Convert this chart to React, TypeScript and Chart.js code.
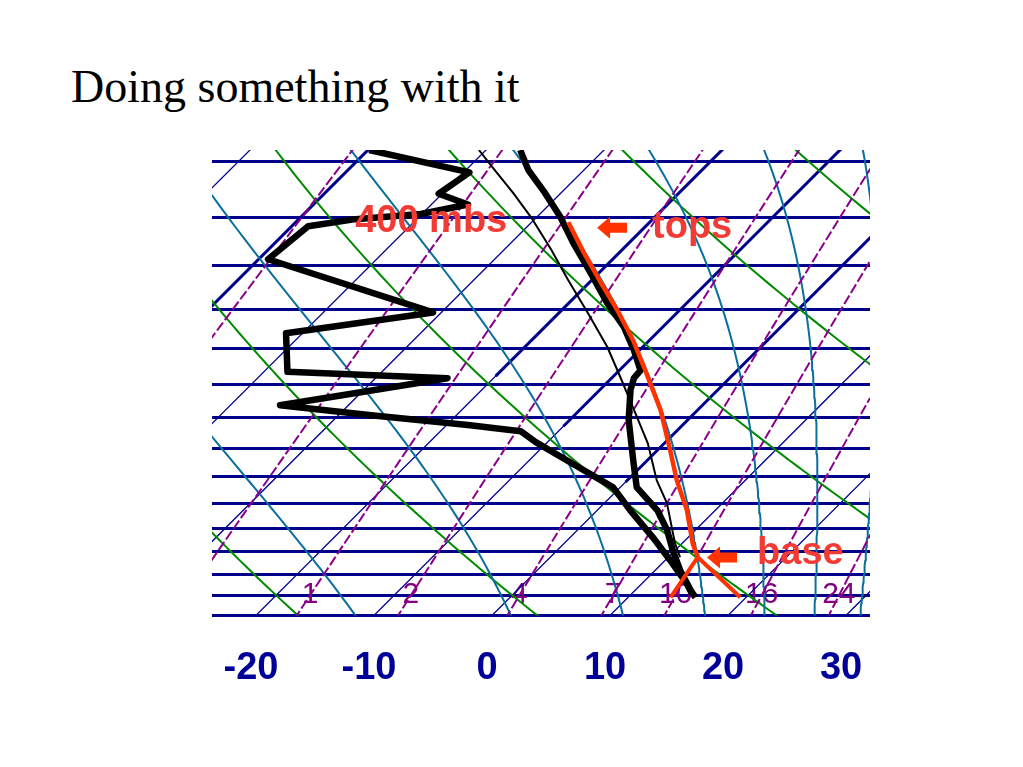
import React, { useEffect, useRef } from "react";
import { Chart, registerables } from "chart.js";

Chart.register(...registerables);

// ---------- axis definitions ----------
const xTickValues = [-20, -10, 0, 10, 20, 30];
const isobarLevels = [350, 400, 450, 500, 550, 600, 650, 700, 750, 800, 850, 900, 950, 1000, 1050];
const isothermValues = [-70, -60, -50, -40, -30, -20, -10, 0, 10, 20, 30];
const boldIsotherms = [-50, -20, -10, 0]; // drawn heavier in their upper part
const boldIsothermLowestP = [1050, 588, 664, 760];
const dryAdiabatThetas = [-20, 0, 20, 40, 60, 80]; // potential temperature, deg C
const moistThetaEs = [262, 282, 302, 322, 341, 361, 384]; // equivalent potential temperature, K
const mixingRatioValues = [0.1, 0.4, 1, 2, 4, 7, 10, 16, 24]; // g/kg
const mixingRatioLabels = [1, 2, 4, 7, 10, 16, 24];
const mixingLabelPressure = 1000;

const P_TOP = 340;
const P_BOTTOM = 1050;
const X_MIN = -23.73;
const X_MAX = 32.03;
const SKEW = 35.02; // 45 degree skew of the isotherms

// ---------- sounding (pressure hPa, temperature deg C) ----------
const tempP = [340, 357, 377, 400, 426, 458, 493, 522, 552, 580, 591, 608, 654, 721, 770, 814, 854, 897, 941, 988, 1005];
const tempT = [-37.1, -34.7, -31.4, -28.0, -24.7, -20.7, -16.7, -13.3, -10.5, -8.2, -8.1, -7.4, -5.0, -1.2, 1.4, 5.1, 7.6, 9.8, 12.1, 14.7, 15.7];

const dewP = [340, 359, 378, 388, 397, 402, 409, 443, 504, 530, 582, 591, 631, 647, 662, 672, 690, 735, 770, 814, 869, 926, 972, 998];
const dewT = [-49.9, -39.5, -40.3, -36.9, -40.1, -45.2, -48.6, -49.2, -30.7, -41.4, -38.0, -23.9, -35.8, -27.0, -18.2, -13.2, -11.0, -5.0, -0.6, 2.8, 7.0, 10.9, 13.8, 15.2];

const thinP = [340, 355, 377, 400, 433, 466, 505, 548, 590, 650, 692, 757, 800, 882, 912];
const thinT = [-40.6, -37.9, -34.1, -30.5, -26.0, -22.0, -17.5, -13.0, -9.3, -4.5, -1.4, 2.5, 5.3, 9.4, 11.0];

const parcelP = [405, 436, 469, 501, 539, 580, 639, 704, 757, 814, 882, 912];
const parcelT = [-26.9, -23.0, -19.0, -15.3, -11.4, -7.8, -3.1, 1.1, 4.2, 7.6, 10.9, 12.5];

const dryBranchP = [912, 1005];
const dryBranchT = [12.5, 19.5];
const mixBranchP = [912, 1005];
const mixBranchT = [12.5, 13.6];

// ---------- annotations (skewed x value, pressure) ----------
const annotationTexts = ["400 mbs", "tops", "base"];
const annotationX = [-11.6, 13.56, 22.46];
const annotationP = [414.6, 420.6, 928.1];
const arrowX = [10.17, 19.49];
const arrowP = [410.6, 912.5];

// ---------- thermodynamics ----------
const skewX = (T: number, p: number) => T + SKEW * Math.log(P_BOTTOM / p);
const esat = (Tc: number) => 6.112 * Math.exp((17.67 * Tc) / (Tc + 243.5));
const mixRatio = (Tc: number, p: number) => {
  const e = esat(Tc);
  return (622 * e) / (p - e);
};
const thetaE = (Tc: number, p: number) => {
  const TK = Tc + 273.15;
  const r = mixRatio(Tc, p);
  return TK * Math.pow(1000 / p, 0.2854 * (1 - 0.00028 * r)) * Math.exp((3.376 / TK - 0.00254) * r * (1 + 0.00081 * r));
};
const tempOnThetaE = (te: number, p: number) => {
  let lo = -130, hi = 60;
  for (let i = 0; i < 60; i++) {
    const mid = (lo + hi) / 2;
    if (thetaE(mid, p) > te) hi = mid; else lo = mid;
  }
  return (lo + hi) / 2;
};
const tempOnTheta = (thC: number, p: number) => (thC + 273.15) * Math.pow(p / 1000, 0.286) - 273.15;
const dewFromMix = (r: number, p: number) => {
  const e = (r * p) / (622 + r);
  const L = Math.log(e / 6.112);
  return (243.5 * L) / (17.67 - L);
};

const curveLevels: number[] = [];
for (let p = 1060; p >= 320; p -= 10) curveLevels.push(p);

const line = (pts: { x: number; y: number }[], color: string, width: number, order: number, dash: number[] = []) => ({
  data: pts,
  showLine: true,
  borderColor: color,
  backgroundColor: color,
  borderWidth: width,
  borderDash: dash,
  pointRadius: 0,
  pointHoverRadius: 0,
  tension: 0,
  fill: false,
  order,
  borderJoinStyle: "round" as const,
  borderCapStyle: "butt" as const,
});

const sounding = (P: number[], T: number[]) => P.map((p, i) => ({ x: skewX(T[i], p), y: p }));

const FONT_SANS = "'Liberation Sans', Arial, Helvetica, sans-serif";

const labelPlugin = {
  id: "skewtLabels",
  beforeDatasetsDraw(chart: any) {
    const { ctx, scales } = chart;
    const x = scales.x, y = scales.y;
    ctx.save();
    ctx.font = `30px ${FONT_SANS}`;
    ctx.fillStyle = "#800080";
    ctx.textAlign = "center";
    ctx.textBaseline = "middle";
    mixingRatioLabels.forEach((r) => {
      const T = dewFromMix(r, mixingLabelPressure);
      ctx.fillText(String(r), x.getPixelForValue(skewX(T, mixingLabelPressure)), y.getPixelForValue(mixingLabelPressure) - 1);
    });
    ctx.restore();
  },
  afterDatasetsDraw(chart: any) {
    const { ctx, scales } = chart;
    const x = scales.x, y = scales.y;
    ctx.save();
    ctx.font = `bold 38px ${FONT_SANS}`;
    ctx.fillStyle = "#F23B35";
    ctx.textAlign = "left";
    ctx.textBaseline = "alphabetic";
    annotationTexts.forEach((t, i) => {
      ctx.fillText(t, x.getPixelForValue(annotationX[i]), y.getPixelForValue(annotationP[i]));
    });
    ctx.fillStyle = "#FF3300";
    arrowX.forEach((ax, i) => {
      const cx = x.getPixelForValue(ax);
      const cy = y.getPixelForValue(arrowP[i]);
      ctx.beginPath();
      ctx.moveTo(cx - 15, cy);
      ctx.lineTo(cx - 2, cy - 11);
      ctx.lineTo(cx - 2, cy - 5);
      ctx.lineTo(cx + 15, cy - 5);
      ctx.lineTo(cx + 15, cy + 5);
      ctx.lineTo(cx - 2, cy + 5);
      ctx.lineTo(cx - 2, cy + 11);
      ctx.closePath();
      ctx.fill();
    });
    ctx.restore();
  },
};

export default function App() {
  const ref = useRef<HTMLCanvasElement>(null);

  useEffect(() => {
    const datasets: any[] = [];
    // sounding (on top)
    datasets.push(line(sounding(parcelP, parcelT), "#FF3300", 4.5, 1));
    datasets.push(line(sounding(dryBranchP, dryBranchT), "#FF3300", 4, 1));
    datasets.push(line(sounding(mixBranchP, mixBranchT), "#FF3300", 4, 1));
    datasets.push(line(sounding(tempP, tempT), "#000000", 6.5, 2));
    datasets.push(line(sounding(dewP, dewT), "#000000", 6.5, 2));
    datasets.push(line(sounding(thinP, thinT), "#000000", 2, 3));
    // background lines
    mixingRatioValues.forEach((r) =>
      datasets.push(line(curveLevels.map((p) => ({ x: skewX(dewFromMix(r, p), p), y: p })), "#8B008B", 2, 10, [10, 3]))
    );
    moistThetaEs.forEach((te) =>
      datasets.push(line(curveLevels.map((p) => ({ x: skewX(tempOnThetaE(te, p), p), y: p })), "#0A6E9E", 2, 11))
    );
    dryAdiabatThetas.forEach((th) =>
      datasets.push(line(curveLevels.map((p) => ({ x: skewX(tempOnTheta(th, p), p), y: p })), "#008A00", 2, 12))
    );
    boldIsotherms.forEach((t, i) =>
      datasets.push(
        line([{ x: skewX(t, boldIsothermLowestP[i]), y: boldIsothermLowestP[i] }, { x: skewX(t, 320), y: 320 }], "#00008B", 3, 13)
      )
    );
    isothermValues.forEach((t) =>
      datasets.push(line([{ x: skewX(t, 1060), y: 1060 }, { x: skewX(t, 320), y: 320 }], "#00008B", 1.3, 14))
    );

    const chart = new Chart(ref.current as HTMLCanvasElement, {
      type: "scatter",
      data: { datasets },
      options: {
        animation: false,
        responsive: false,
        maintainAspectRatio: false,
        devicePixelRatio: 1,
        events: [],
        layout: { padding: { left: 212, right: 153, top: 150, bottom: 46 } },
        plugins: { legend: { display: false }, tooltip: { enabled: false }, title: { display: false } },
        scales: {
          x: {
            type: "linear",
            min: X_MIN,
            max: X_MAX,
            afterBuildTicks: (axis: any) => {
              axis.ticks = xTickValues.map((v) => ({ value: v }));
            },
            grid: { display: false, drawTicks: false },
            border: { display: false },
            ticks: {
              color: "#000099",
              font: { family: FONT_SANS, size: 38, weight: "bold" },
              padding: 30,
              labelOffset: -5,
              maxRotation: 0,
              autoSkip: false,
              callback: (v: any) => String(v),
            },
          },
          y: {
            type: "logarithmic",
            reverse: true,
            min: P_TOP,
            max: P_BOTTOM,
            afterBuildTicks: (axis: any) => {
              axis.ticks = isobarLevels.map((v) => ({ value: v }));
            },
            ticks: { display: false },
            grid: { color: "#00008B", lineWidth: 3, drawTicks: false },
            border: { display: false },
          },
        },
      } as any,
      plugins: [labelPlugin],
    });
    return () => chart.destroy();
  }, []);

  return (
    <div style={{ position: "absolute", left: 0, top: 0, width: 1023, height: 767, background: "#ffffff", overflow: "hidden" }}>
      <div
        style={{
          position: "absolute",
          left: 71,
          top: 64,
          font: "46px/46px 'Liberation Serif', 'Times New Roman', serif",
          color: "#000000",
          whiteSpace: "nowrap",
        }}
      >
        Doing something with it
      </div>
      <canvas ref={ref} width={1023} height={767} style={{ position: "absolute", left: 0, top: 0, width: 1023, height: 767 }} />
    </div>
  );
}
